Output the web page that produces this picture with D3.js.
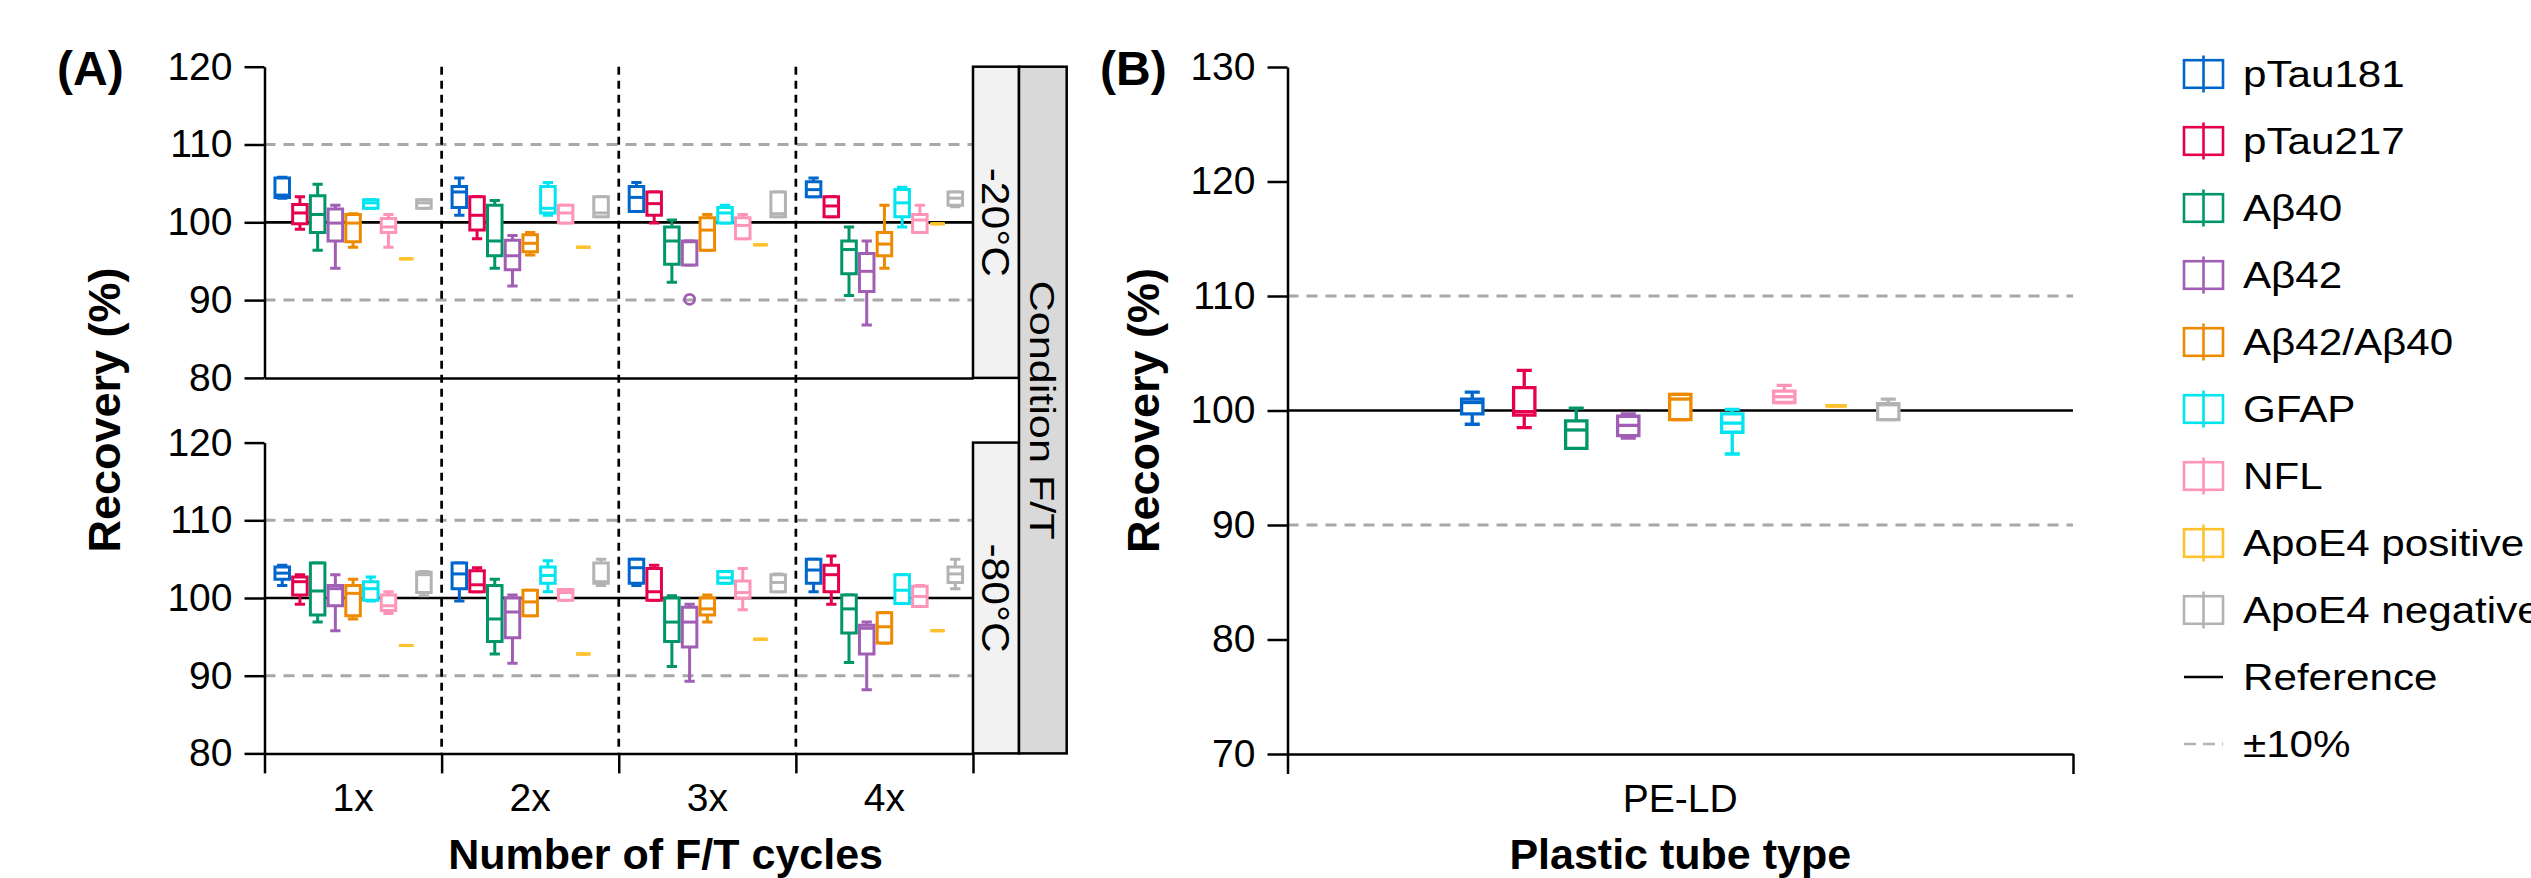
<!DOCTYPE html>
<html lang="en">
<head>
<meta charset="UTF-8" />
<script src="https://d3js.org/d3.v7.min.js"></script>
<style type="text/css">
  body { margin: 0; background: #fff; }
  text { font-family: "Liberation Sans", Arial, sans-serif; fill: #000; }
</style>
<title>Recovery</title>
</head>
<body>
<script type="text/javascript">
// ---- data -------------------------------------------------------------
var analytes = ["pTau181", "pTau217", "Aβ40", "Aβ42", "Aβ42/Aβ40", "GFAP", "NFL", "ApoE4 positive", "ApoE4 negative"];
var colors = ["#0066CC", "#E6004C", "#00966A", "#A05EB5", "#EE8A00", "#00E5EF", "#FF95B6", "#FFC12E", "#B3B3B3"];
var cycles = ["1x", "2x", "3x", "4x"];
var temps = ["-20°C", "-80°C"];
var tubes = ["PE-LD"];
var yTicksA = [80, 90, 100, 110, 120];
var yTicksB = [70, 80, 90, 100, 110, 120, 130];

// each row: [lower whisker, Q1, median, Q3, upper whisker], one per analyte
var m20_1x = [[103.1,103.2,103.5,105.7,105.8],[99.1,99.8,101.2,102.3,103.3],[96.4,98.7,101.0,103.4,104.9],[94.1,97.6,99.9,101.7,102.2],[96.8,97.5,99.9,101.0,101.1],[101.8,101.8,102.5,102.9,102.9],[96.8,98.7,99.4,100.5,101.0],[95.3,95.3,95.3,95.3,95.3],[101.8,101.8,102.5,102.9,102.9]];
var m20_2x = [[100.9,101.9,103.9,104.6,105.7],[97.9,99.0,100.9,103.3,103.3],[94.1,95.7,97.6,102.2,102.8],[91.8,93.9,95.7,97.7,98.3],[95.8,96.2,97.3,98.4,98.7],[100.9,101.2,101.8,104.6,105.1],[99.9,99.9,101.2,102.2,102.2],[96.8,96.8,96.8,96.8,96.8],[100.7,100.7,101.2,103.3,103.3]];
var m20_3x = [[101.4,101.4,103.2,104.6,105.1],[99.9,100.9,102.4,103.9,103.9],[92.3,94.6,97.6,99.4,100.3],[94.5,94.5,97.5,97.6,97.6],[96.4,96.4,99.0,100.6,101.0],[99.9,99.9,101.2,101.9,102.2],[97.9,97.9,99.6,100.6,101.0],[97.1,97.1,97.1,97.1,97.1],[100.7,100.7,101.1,103.9,103.9]];
var m20_4x = [[103.3,103.3,104.2,105.2,105.7],[100.7,100.7,102.1,103.3,103.3],[90.6,93.4,96.5,97.6,99.4],[86.8,91.1,93.7,96.0,97.6],[94.1,95.7,97.2,98.7,102.2],[99.4,100.7,102.5,104.2,104.5],[98.7,98.7,100.3,101.0,102.2],[99.8,99.8,99.8,99.8,99.8],[102.0,102.2,103.1,103.9,103.9]];
var m80_1x = [[101.6,102.4,103.2,104.0,104.2],[99.2,100.4,102.1,102.7,103.0],[96.9,97.8,100.9,104.5,104.5],[95.8,99.0,101.2,101.6,103.0],[97.3,97.7,100.6,101.6,102.4],[99.6,99.7,101.2,102.1,102.7],[98.0,98.4,99.0,100.4,100.8],[93.9,93.9,93.9,93.9,93.9],[100.3,100.7,103.0,103.3,103.4]];
var m80_2x = [[99.6,101.2,103.1,104.5,104.5],[100.8,100.8,101.7,103.5,103.9],[92.8,94.4,97.3,101.6,102.4],[91.6,94.9,98.2,100.0,100.4],[97.7,97.7,99.5,101.0,101.0],[100.8,101.9,102.9,104.0,104.8],[99.7,99.7,100.7,101.1,101.1],[92.8,92.8,92.8,92.8,92.8],[101.6,101.9,102.1,104.5,105.0]];
var m80_3x = [[101.6,101.9,103.9,105.0,105.0],[99.7,99.7,100.8,103.8,104.2],[91.2,94.4,96.9,100.0,100.3],[89.3,93.7,96.9,98.8,99.2],[96.9,97.8,98.6,100.0,100.4],[101.9,101.9,102.6,103.4,103.4],[98.5,100.0,100.7,102.2,103.8],[94.7,94.7,94.7,94.7,94.7],[100.8,100.8,102.0,103.0,103.1]];
var m80_4x = [[100.8,101.9,103.6,105.0,105.0],[99.2,100.8,103.0,104.2,105.4],[91.7,95.5,98.6,100.4,100.4],[88.2,92.8,96.1,96.5,96.9],[94.2,94.2,96.3,98.1,98.1],[99.3,99.3,101.0,103.0,103.0],[98.9,98.9,100.2,101.5,101.6],[95.8,95.8,95.8,95.8,95.8],[101.2,102.0,103.1,104.0,105.0]];
var tube_PELD = [[98.8,99.7,100.7,101.0,101.6],[98.5,99.6,99.9,102.0,103.5],[96.7,96.7,98.3,99.1,100.2],[97.6,97.8,98.7,99.5,99.7],[99.2,99.2,101.0,101.4,101.4],[96.2,98.1,98.9,99.7,100.1],[100.7,100.7,101.2,101.7,102.2],[100.4,100.4,100.4,100.4,100.4],[99.2,99.2,100.5,100.6,101.0]];

var outliers = [{temp: "-20°C", cycle: "3x", analyte: "Aβ42", value: 90.1}];

var statsA = {
  "-20°C": {"1x": m20_1x, "2x": m20_2x, "3x": m20_3x, "4x": m20_4x},
  "-80°C": {"1x": m80_1x, "2x": m80_2x, "3x": m80_3x, "4x": m80_4x}
};
var statsB = {"PE-LD": tube_PELD};

// ---- layout -----------------------------------------------------------
var W = 2531, H = 878;
var svg = d3.select("body").append("svg")
  .attr("width", W).attr("height", H);

var axisW = 2.5;
var xA = d3.scaleBand().domain(cycles).range([264.5, 973]);
var innerA = d3.scaleBand().domain(analytes)
  .range([xA.bandwidth() * 0.05, xA.bandwidth() * 0.95]);
var yA = {
  "-20°C": d3.scaleLinear().domain([80, 120]).range([377.9, 66.7]),
  "-80°C": d3.scaleLinear().domain([80, 120]).range([753.4, 442.6])
};

var xB = d3.scaleBand().domain(tubes).range([1287.5, 2073]);
var innerB = d3.scaleBand().domain(analytes)
  .range([xB.bandwidth() / 2 - 234, xB.bandwidth() / 2 + 234]);
var yB = d3.scaleLinear().domain([70, 130]).range([754, 67]);

function styleAxis(g, fs) {
  g.select(".domain").attr("stroke", "#000").attr("stroke-width", axisW);
  g.selectAll(".tick line").attr("stroke", "#000").attr("stroke-width", axisW);
  g.selectAll("text").attr("font-size", fs).attr("font-family", "Liberation Sans, Arial, sans-serif").attr("fill", "#000");
}

// reference lines for one panel
function refLines(g, x0, x1, y) {
  [90, 110].forEach(function(v) {
    g.append("line").attr("x1", x0).attr("x2", x1)
      .attr("y1", y(v)).attr("y2", y(v))
      .attr("stroke", "#A8A8A8").attr("stroke-width", 3)
      .attr("stroke-dasharray", "11,8");
  });
  g.append("line").attr("x1", x0).attr("x2", x1)
    .attr("y1", y(100)).attr("y2", y(100))
    .attr("stroke", "#000").attr("stroke-width", 2.7);
}

function drawBox(g, cx, bw, capW, s, y, color, sw) {
  var lo = y(s[0]), q1 = y(s[1]), md = y(s[2]), q3 = y(s[3]), hi = y(s[4]);
  var l = cx - bw / 2, r = cx + bw / 2;
  var wh = d3.path();
  wh.moveTo(cx, hi); wh.lineTo(cx, q3);
  wh.moveTo(cx, q1); wh.lineTo(cx, lo);
  wh.moveTo(cx - capW / 2, hi); wh.lineTo(cx + capW / 2, hi);
  wh.moveTo(cx - capW / 2, lo); wh.lineTo(cx + capW / 2, lo);
  g.append("path").attr("d", wh.toString())
    .attr("fill", "none").attr("stroke", color).attr("stroke-width", sw);
  var bx = d3.path();
  bx.moveTo(l, q3); bx.lineTo(r, q3); bx.lineTo(r, q1); bx.lineTo(l, q1); bx.closePath();
  g.append("path").attr("d", bx.toString())
    .attr("fill", "#fff").attr("stroke", color).attr("stroke-width", sw)
    .attr("stroke-linejoin", "miter");
  g.append("line").attr("x1", l).attr("x2", r).attr("y1", md).attr("y2", md)
    .attr("stroke", color).attr("stroke-width", sw);
}

// ---- panel A ----------------------------------------------------------
var gA = svg.append("g");
temps.forEach(function(t) {
  refLines(gA, xA.range()[0], xA.range()[1], yA[t]);
});

// dashed separators between cycles
gA.selectAll(".sep").data(cycles.slice(1)).enter().append("line")
  .attr("x1", function(c) { return xA(c); })
  .attr("x2", function(c) { return xA(c); })
  .attr("y1", yA["-20°C"](120)).attr("y2", yA["-80°C"](80))
  .attr("stroke", "#000").attr("stroke-width", 2.7)
  .attr("stroke-dasharray", "8,6");

var bwA = innerA.bandwidth() * 0.82, capA = innerA.bandwidth() * 0.58;
temps.forEach(function(t) {
  cycles.forEach(function(c) {
    statsA[t][c].forEach(function(s, i) {
      var cx = xA(c) + innerA(analytes[i]) + innerA.bandwidth() / 2;
      drawBox(gA, cx, bwA, capA, s, yA[t], colors[i], 3);
    });
  });
});
outliers.forEach(function(o) {
  var i = analytes.indexOf(o.analyte);
  gA.append("circle")
    .attr("cx", xA(o.cycle) + innerA(o.analyte) + innerA.bandwidth() / 2)
    .attr("cy", yA[o.temp](o.value)).attr("r", 5)
    .attr("fill", "none").attr("stroke", colors[i]).attr("stroke-width", 2.8);
});

// axes panel A
temps.forEach(function(t) {
  var gy = gA.append("g").attr("transform", "translate(" + xA.range()[0] + ",0)")
    .call(d3.axisLeft(yA[t]).tickValues(yTicksA).tickSize(20).tickSizeOuter(0).tickPadding(12));
  styleAxis(gy, 39);
});
var gxTop = gA.append("g").attr("transform", "translate(0," + yA["-20°C"](80) + ")")
  .call(d3.axisBottom(xA).tickValues([]).tickSizeOuter(0));
styleAxis(gxTop, 39);

var edgeA = d3.scaleLinear().domain([0, cycles.length]).range(xA.range());
var gxEdge = gA.append("g").attr("transform", "translate(0," + yA["-80°C"](80) + ")")
  .call(d3.axisBottom(edgeA).tickValues(d3.range(cycles.length + 1)).tickFormat("").tickSize(20).tickSizeOuter(0));
styleAxis(gxEdge, 39);
var gxA = gA.append("g").attr("transform", "translate(0," + yA["-80°C"](80) + ")")
  .call(d3.axisBottom(xA).tickSize(20).tickSizeOuter(0).tickPadding(10));
gxA.selectAll(".tick line").remove();
gxA.select(".domain").remove();
styleAxis(gxA, 39);

// facet strips
var stripX0 = 973, stripX1 = 1019, stripX2 = 1066.7;
temps.forEach(function(t) {
  var y0 = yA[t](120), y1 = yA[t](80);
  gA.append("rect").attr("x", stripX0).attr("y", y0)
    .attr("width", stripX1 - stripX0).attr("height", y1 - y0)
    .attr("fill", "#F2F2F2").attr("stroke", "#000").attr("stroke-width", 2.5);
  gA.append("text")
    .attr("transform", "translate(" + ((stripX0 + stripX1) / 2) + "," + ((y0 + y1) / 2) + ") rotate(90) scale(1.12,1)")
    .attr("text-anchor", "middle").attr("dy", "0.36em")
    .attr("font-size", 38).text(t);
});
var cy0 = yA["-20°C"](120), cy1 = yA["-80°C"](80);
gA.append("rect").attr("x", stripX1).attr("y", cy0)
  .attr("width", stripX2 - stripX1).attr("height", cy1 - cy0)
  .attr("fill", "#D9D9D9").attr("stroke", "#000").attr("stroke-width", 2.5);
gA.append("text")
  .attr("transform", "translate(" + ((stripX1 + stripX2) / 2) + "," + ((cy0 + cy1) / 2) + ") rotate(90) scale(1.2,1)")
  .attr("text-anchor", "middle").attr("dy", "0.36em")
  .attr("font-size", 36).text("Condition F/T");

// titles panel A
gA.append("text").attr("x", (xA.range()[0] + stripX2) / 2).attr("y", 869)
  .attr("text-anchor", "middle").attr("font-size", 43).attr("font-weight", "bold")
  .text("Number of F/T cycles");
gA.append("text").attr("transform", "translate(120," + ((cy0 + cy1) / 2) + ") rotate(-90)")
  .attr("text-anchor", "middle").attr("font-size", 45).attr("font-weight", "bold")
  .text("Recovery (%)");
gA.append("text").attr("x", 57).attr("y", 85)
  .attr("font-size", 48).attr("font-weight", "bold").text("(A)");

// ---- panel B ----------------------------------------------------------
var gB = svg.append("g");
refLines(gB, xB.range()[0], xB.range()[1], yB);
var bwB = innerB.bandwidth() * 0.41, capB = innerB.bandwidth() * 0.29;
tubes.forEach(function(tb) {
  statsB[tb].forEach(function(s, i) {
    var cx = xB(tb) + innerB(analytes[i]) + innerB.bandwidth() / 2;
    drawBox(gB, cx, bwB, capB, s, yB, colors[i], 3.3);
  });
});
var gyB = gB.append("g").attr("transform", "translate(" + xB.range()[0] + ",0)")
  .call(d3.axisLeft(yB).tickValues(yTicksB).tickSize(20).tickSizeOuter(0).tickPadding(12));
styleAxis(gyB, 39);
var edgeB = d3.scaleLinear().domain([0, tubes.length]).range(xB.range());
var gxEdgeB = gB.append("g").attr("transform", "translate(0," + yB(70) + ")")
  .call(d3.axisBottom(edgeB).tickValues(d3.range(tubes.length + 1)).tickFormat("").tickSize(20).tickSizeOuter(0));
styleAxis(gxEdgeB, 39);
var gxB = gB.append("g").attr("transform", "translate(0," + yB(70) + ")")
  .call(d3.axisBottom(xB).tickSize(20).tickSizeOuter(0).tickPadding(10));
gxB.selectAll(".tick line").remove();
gxB.select(".domain").remove();
styleAxis(gxB, 39);

gB.append("text").attr("x", (xB.range()[0] + xB.range()[1]) / 2).attr("y", 869)
  .attr("text-anchor", "middle").attr("font-size", 43).attr("font-weight", "bold")
  .text("Plastic tube type");
gB.append("text").attr("transform", "translate(1159," + ((yB(70) + yB(130)) / 2) + ") rotate(-90)")
  .attr("text-anchor", "middle").attr("font-size", 45).attr("font-weight", "bold")
  .text("Recovery (%)");
gB.append("text").attr("x", 1100).attr("y", 85)
  .attr("font-size", 48).attr("font-weight", "bold").text("(B)");

// ---- legend -----------------------------------------------------------
var legendItems = analytes.concat(["Reference", "±10%"]);
var legY = d3.scalePoint().domain(legendItems).range([74, 744]);
var gL = svg.append("g");
var sx0 = 2184, sx1 = 2223;
legendItems.forEach(function(name, i) {
  var yy = legY(name);
  if (i < analytes.length) {
    gL.append("rect").attr("x", sx0).attr("y", yy - 13.8)
      .attr("width", sx1 - sx0).attr("height", 27.6)
      .attr("fill", "none").attr("stroke", colors[i]).attr("stroke-width", 2.6);
    gL.append("line").attr("x1", (sx0 + sx1) / 2).attr("x2", (sx0 + sx1) / 2)
      .attr("y1", yy - 18.5).attr("y2", yy + 18.5)
      .attr("stroke", colors[i]).attr("stroke-width", 2.6);
  } else if (name === "Reference") {
    gL.append("line").attr("x1", sx0).attr("x2", sx1).attr("y1", yy).attr("y2", yy)
      .attr("stroke", "#000").attr("stroke-width", 2.6);
  } else {
    gL.append("line").attr("x1", sx0).attr("x2", sx1).attr("y1", yy).attr("y2", yy)
      .attr("stroke", "#B3B3B3").attr("stroke-width", 2.6).attr("stroke-dasharray", "12,7");
  }
  gL.append("text")
    .attr("transform", "translate(2243," + (yy + 13) + ") scale(1.14,1)")
    .attr("font-size", 37).text(name);
});
</script>
</body>
</html>
